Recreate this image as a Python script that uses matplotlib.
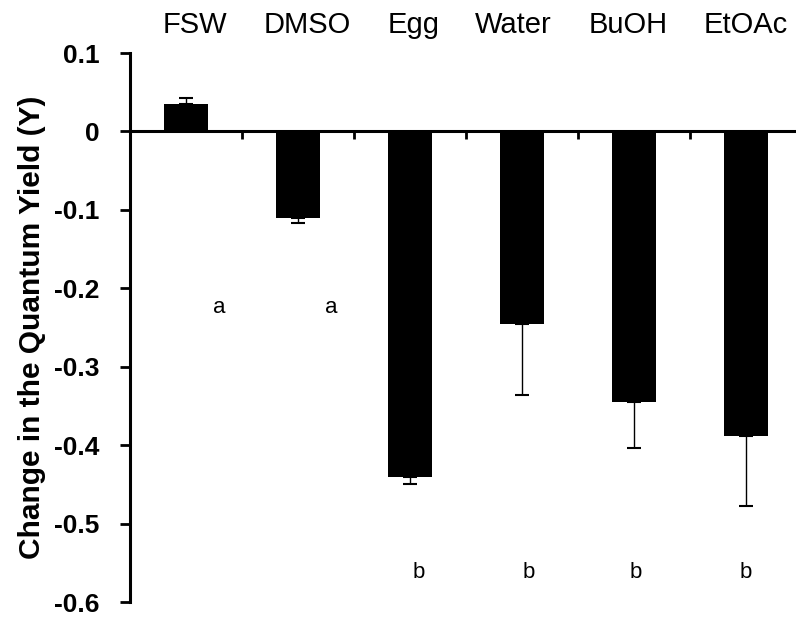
import numpy as np
import matplotlib
matplotlib.use("Agg")
import matplotlib.pyplot as plt
import matplotlib.transforms as mtransforms

plt.rcParams['font.family'] = ['Liberation Sans', 'DejaVu Sans']

treatments = ['FSW', 'DMSO', 'Egg', 'Water', 'BuOH', 'EtOAc']
change_y = [0.035, -0.111, -0.440, -0.245, -0.345, -0.388]
err = [0.007, 0.006, 0.010, 0.091, 0.059, 0.090]
letters = ['a', 'a', 'b', 'b', 'b', 'b']
letter_y = [-0.225, -0.225, -0.562, -0.562, -0.562, -0.562]
letter_dx = [0.3, 0.3, 0.08, 0.06, 0.02, 0.0]
name_dx = [0.08, 0.08, 0.03, -0.08, -0.05, 0.0]

x = np.arange(len(treatments))
upper = [e if v > 0 else 0 for v, e in zip(change_y, err)]
lower = [e if v < 0 else 0 for v, e in zip(change_y, err)]

fig = plt.figure(figsize=(7.96, 6.18), dpi=100)
ax = fig.add_axes([130 / 796, 1 - 602 / 618, 666 / 796, 549 / 618])

ax.bar(x, change_y, width=0.39, color='black', zorder=2)
ax.errorbar(x, change_y, yerr=[lower, upper], fmt='none', ecolor='black',
            elinewidth=1.0, capsize=5, capthick=1.5, zorder=3)

ax.set_xlim(-0.5, -0.5 + 666 / 112)
ax.set_ylim(-0.6, 0.1)
ax.set_yticks(np.arange(-0.6, 0.11, 0.1))
ax.set_yticklabels(['-0.6', '-0.5', '-0.4', '-0.3', '-0.2', '-0.1', '0', '0.1'],
                   fontsize=19, fontweight='bold')
ax.set_ylabel('Change in the Quantum Yield (Y)', fontsize=21.5, fontweight='bold',
              labelpad=6)

for s in ['top', 'right']:
    ax.spines[s].set_visible(False)
ax.spines['bottom'].set_position(('data', 0))
ax.spines['bottom'].set_linewidth(2.2)
ax.spines['left'].set_linewidth(2.2)
ax.set_xticks(x[:-1] + 0.5)
ax.set_xticklabels([])
ax.tick_params(axis='x', direction='out', length=6, width=2)
ax.tick_params(axis='y', direction='out', length=7, width=2, pad=15)

trans = mtransforms.blended_transform_factory(ax.transData, ax.transAxes)
for i, name in enumerate(treatments):
    ax.text(x[i] + name_dx[i], 1 + 28 / 549, name, transform=trans,
            ha='center', va='center', fontsize=21, clip_on=False)
    ax.text(x[i] + letter_dx[i], letter_y[i], letters[i], ha='center',
            va='center', fontsize=16)

fig.savefig('out.png', dpi=100)
